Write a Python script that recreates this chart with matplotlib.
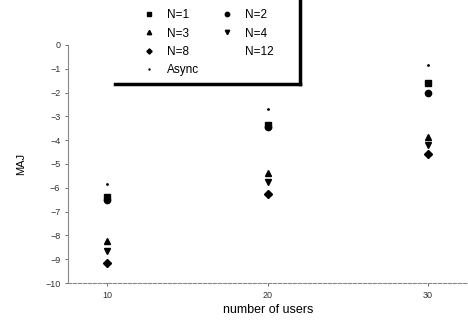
import matplotlib
matplotlib.use("Agg")
import matplotlib.pyplot as plt
from matplotlib.lines import Line2D

plt.rcParams['font.family'] = ['Liberation Sans', 'DejaVu Sans']

# data
users = [10, 20, 30]
n1 = [-6.40, -3.35, -1.58]
n2 = [-6.50, -3.45, -2.00]
n3 = [-8.23, -5.38, -3.85]
n4 = [-8.65, -5.76, -4.20]
n8 = [-9.15, -6.26, -4.59]
n12 = []
async_ = [-5.84, -2.70, -0.84]
yticks = list(range(0, -11, -1))

series = [
    ("N=1", n1, "s", 4.5),
    ("N=2", n2, "o", 4.5),
    ("N=3", n3, "^", 4.5),
    ("N=4", n4, "v", 4.5),
    ("N=8", n8, "D", 3.8),
    ("N=12", n12, "None", 4),
    ("Async", async_, ".", 2),
]

fig = plt.figure(figsize=(4.68, 3.22), dpi=100)
ax = fig.add_axes([0.1453, 0.1025, 0.8547, 0.7766])

handles = {}
for label, vals, mk, ms in series:
    xs = users[:len(vals)]
    h, = ax.plot(xs, vals, linestyle="none", marker=mk, markersize=ms,
                 color="black", label=label)
    handles[label] = h

ax.set_xlim(7.56, 32.5)
ax.set_ylim(-10.25, 0.25)
ax.set_xticks(users)
ax.set_yticks(yticks)
ax.tick_params(labelsize=6.5, length=2, width=0.5, colors="#333333")

for s in ["top", "right"]:
    ax.spines[s].set_visible(False)
ax.spines["left"].set_bounds(-10, 0)
ax.spines["left"].set_color("#888888")
ax.spines["left"].set_linewidth(0.8)
ax.spines["bottom"].set_position(("data", -10))
ax.spines["bottom"].set_color("#888888")
ax.spines["bottom"].set_linestyle((0, (3, 1.5)))
ax.spines["bottom"].set_linewidth(0.8)

ax.set_ylabel("MAJ", fontsize=8, labelpad=14)
ax.set_xlabel("number of users", fontsize=9, labelpad=3)

# legend: matplotlib fills columns first, so list column by column
col1 = ["N=1", "N=3", "N=8", "Async"]
col2 = ["N=2", "N=4", "N=12"]
blank = Line2D([], [], linestyle="none", marker="None")
hs = [handles[k] for k in col1] + [handles[k] for k in col2] + [blank]
ls = col1 + col2 + [""]
leg = fig.legend(hs, ls, ncol=2, loc="upper left",
                 bbox_to_anchor=(0.283, 1.005), frameon=False,
                 fontsize=8.5, handlelength=1.0, handletextpad=1.0,
                 columnspacing=1.9, labelspacing=0.55, markerscale=0.7)

# thick shadowed frame edges of the legend box
fig.add_artist(Line2D([115 / 468, 300 / 468], [1 - 84 / 322, 1 - 84 / 322],
                      color="black", linewidth=2.5, transform=fig.transFigure))
fig.add_artist(Line2D([300 / 468, 300 / 468], [1 - 84 / 322, 1.0],
                      color="black", linewidth=2.5, transform=fig.transFigure))

fig.savefig("out.png", dpi=100)
